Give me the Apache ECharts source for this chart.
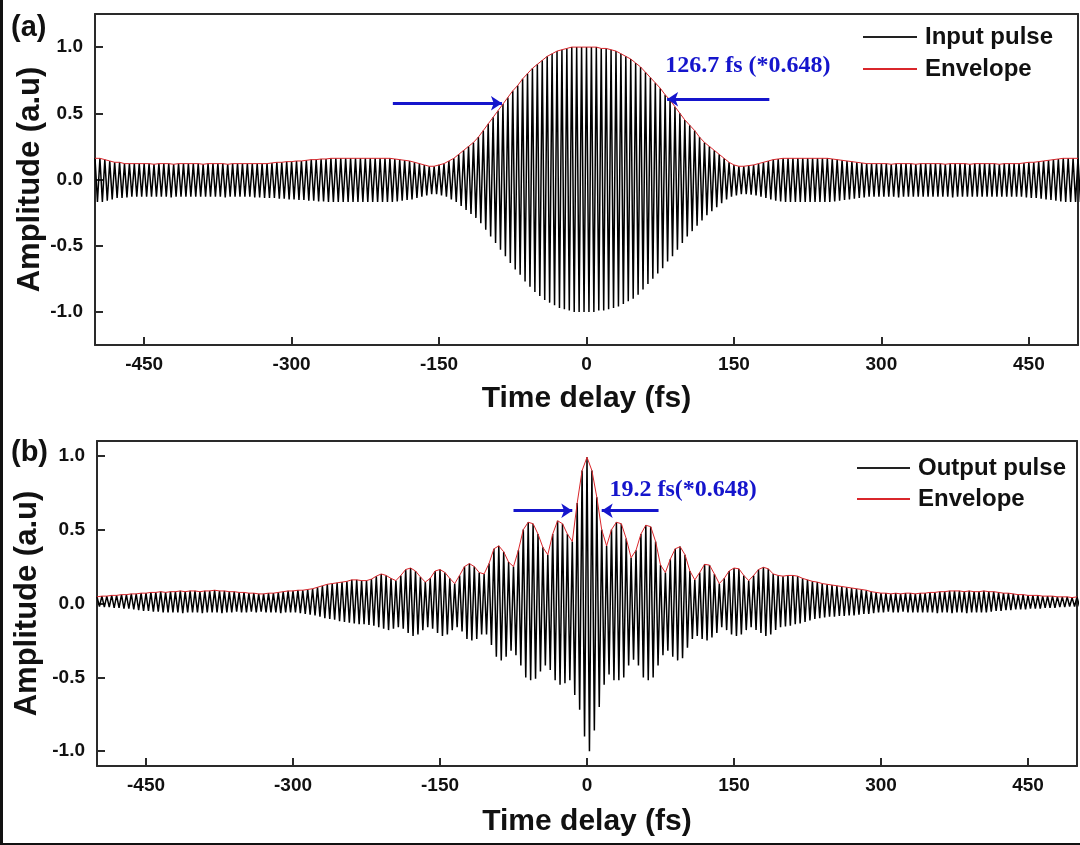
<!DOCTYPE html>
<html>
<head>
<meta charset="utf-8">
<title>Input / output pulse</title>
<script src="https://cdn.jsdelivr.net/npm/echarts@6/dist/echarts.min.js"></script>
<style>
  html, body { margin: 0; padding: 0; background: #fff; }
  #main { width: 1080px; height: 845px; }
  .edge { position: absolute; background: #111; }
</style>
</head>
<body>
<div id="main"></div>
<div class="edge" style="left:0;top:0;width:3px;height:845px"></div>
<div class="edge" style="left:0;top:843px;width:1080px;height:2px"></div>
<script>
// samples every 5 fs from -500 fs; peak at t, trough half a step later
const tStart = -500;
const tStep = 5;

// (a) input pulse: peak values and trough values
const inputUpper = [
  0.16, 0.16, 0.15, 0.14, 0.13, 0.13, 0.12, 0.12, 0.12, 0.12,
  0.12, 0.12, 0.115, 0.12, 0.12, 0.12, 0.115, 0.12, 0.12, 0.12,
  0.12, 0.12, 0.115, 0.12, 0.12, 0.12, 0.12, 0.115, 0.12, 0.12,
  0.12, 0.12, 0.12, 0.12, 0.12, 0.12, 0.125, 0.13, 0.13, 0.135,
  0.135, 0.14, 0.14, 0.145, 0.15, 0.15, 0.155, 0.155, 0.16, 0.16,
  0.16, 0.16, 0.16, 0.16, 0.16, 0.16, 0.16, 0.16, 0.16, 0.16,
  0.16, 0.155, 0.15, 0.145, 0.14, 0.13, 0.12, 0.11, 0.10, 0.10,
  0.11, 0.12, 0.14, 0.16, 0.19, 0.22, 0.25, 0.28, 0.32, 0.37,
  0.42, 0.47, 0.52, 0.57, 0.62, 0.67, 0.71, 0.76, 0.80, 0.84,
  0.87, 0.90, 0.93, 0.95, 0.97, 0.98, 0.99, 1.00, 1.00, 1.00,
  1.00, 1.00, 1.00, 0.99, 0.99, 0.98, 0.97, 0.95, 0.93, 0.91,
  0.88, 0.85, 0.81, 0.77, 0.73, 0.69, 0.64, 0.60, 0.55, 0.50,
  0.45, 0.41, 0.37, 0.32, 0.28, 0.25, 0.22, 0.19, 0.16, 0.13,
  0.11, 0.10, 0.10, 0.105, 0.11, 0.12, 0.13, 0.14, 0.15, 0.155,
  0.16, 0.16, 0.16, 0.16, 0.16, 0.16, 0.16, 0.16, 0.16, 0.16,
  0.155, 0.15, 0.145, 0.14, 0.135, 0.13, 0.125, 0.12, 0.12, 0.12,
  0.12, 0.12, 0.115, 0.12, 0.12, 0.12, 0.12, 0.115, 0.12, 0.12,
  0.12, 0.12, 0.12, 0.115, 0.12, 0.12, 0.12, 0.12, 0.115, 0.12,
  0.12, 0.12, 0.12, 0.12, 0.115, 0.12, 0.12, 0.12, 0.12, 0.125,
  0.13, 0.13, 0.135, 0.14, 0.145, 0.15, 0.155, 0.16, 0.16, 0.16,
  0.16
];
const inputLower = [
  -0.17, -0.17, -0.16, -0.15, -0.14, -0.14, -0.135, -0.13, -0.13, -0.13,
  -0.13, -0.13, -0.13, -0.13, -0.13, -0.135, -0.13, -0.13, -0.13, -0.13,
  -0.13, -0.13, -0.13, -0.13, -0.13, -0.13, -0.135, -0.13, -0.13, -0.13,
  -0.13, -0.13, -0.135, -0.135, -0.14, -0.14, -0.14, -0.145, -0.145, -0.15,
  -0.15, -0.155, -0.155, -0.16, -0.16, -0.165, -0.165, -0.17, -0.17, -0.17,
  -0.17, -0.17, -0.17, -0.17, -0.17, -0.17, -0.17, -0.17, -0.17, -0.17,
  -0.17, -0.165, -0.16, -0.155, -0.15, -0.14, -0.13, -0.12, -0.11, -0.11,
  -0.12, -0.13, -0.15, -0.17, -0.20, -0.23, -0.26, -0.29, -0.33, -0.38,
  -0.43, -0.48, -0.53, -0.58, -0.63, -0.68, -0.72, -0.77, -0.81, -0.85,
  -0.88, -0.91, -0.93, -0.95, -0.97, -0.98, -0.99, -1.00, -1.00, -1.00,
  -1.00, -1.00, -0.99, -0.99, -0.98, -0.97, -0.96, -0.94, -0.92, -0.90,
  -0.87, -0.83, -0.79, -0.75, -0.71, -0.67, -0.62, -0.58, -0.53, -0.48,
  -0.43, -0.39, -0.35, -0.31, -0.27, -0.24, -0.21, -0.18, -0.15, -0.13,
  -0.12, -0.11, -0.11, -0.115, -0.12, -0.13, -0.14, -0.15, -0.16, -0.165,
  -0.17, -0.17, -0.17, -0.17, -0.17, -0.17, -0.17, -0.17, -0.17, -0.17,
  -0.165, -0.16, -0.155, -0.15, -0.145, -0.14, -0.135, -0.13, -0.13, -0.13,
  -0.13, -0.13, -0.13, -0.135, -0.13, -0.13, -0.13, -0.13, -0.13, -0.13,
  -0.13, -0.13, -0.13, -0.13, -0.135, -0.13, -0.13, -0.13, -0.13, -0.13,
  -0.13, -0.13, -0.13, -0.13, -0.13, -0.13, -0.13, -0.13, -0.13, -0.135,
  -0.14, -0.14, -0.145, -0.15, -0.155, -0.16, -0.165, -0.17, -0.17, -0.17,
  -0.17
];

// (b) output pulse
const outputUpper = [
  0.045, 0.05, 0.05, 0.055, 0.055, 0.06, 0.06, 0.065, 0.065, 0.07,
  0.07, 0.075, 0.075, 0.08, 0.075, 0.08, 0.08, 0.085, 0.08, 0.085,
  0.085, 0.08, 0.085, 0.085, 0.09, 0.085, 0.085, 0.08, 0.08, 0.075,
  0.075, 0.07, 0.07, 0.065, 0.065, 0.07, 0.07, 0.075, 0.08, 0.085,
  0.085, 0.09, 0.09, 0.095, 0.10, 0.11, 0.12, 0.13, 0.135, 0.14,
  0.145, 0.15, 0.16, 0.16, 0.155, 0.155, 0.165, 0.185, 0.20, 0.19,
  0.17, 0.155, 0.19, 0.23, 0.24, 0.22, 0.18, 0.145, 0.17, 0.22,
  0.23, 0.21, 0.17, 0.135, 0.19, 0.25, 0.27, 0.25, 0.21, 0.20,
  0.27, 0.37, 0.39, 0.35, 0.28, 0.25, 0.36, 0.50, 0.55, 0.54,
  0.47, 0.38, 0.33, 0.47, 0.56, 0.54, 0.47, 0.42, 0.68, 0.90,
  0.99, 0.90, 0.72, 0.50, 0.39, 0.50, 0.55, 0.54, 0.44, 0.31,
  0.36, 0.47, 0.53, 0.52, 0.42, 0.26, 0.21, 0.30, 0.37, 0.385,
  0.33, 0.22, 0.16, 0.21, 0.265, 0.26, 0.20, 0.135, 0.17, 0.22,
  0.24, 0.235, 0.19, 0.155, 0.19, 0.23, 0.245, 0.235, 0.20, 0.19,
  0.185, 0.19, 0.19, 0.185, 0.17, 0.16, 0.15, 0.145, 0.135, 0.13,
  0.125, 0.12, 0.115, 0.11, 0.105, 0.10, 0.095, 0.09, 0.08, 0.075,
  0.07, 0.07, 0.065, 0.07, 0.065, 0.07, 0.07, 0.065, 0.07, 0.07,
  0.075, 0.075, 0.08, 0.08, 0.085, 0.085, 0.085, 0.08, 0.085, 0.08,
  0.08, 0.085, 0.08, 0.08, 0.075, 0.07, 0.07, 0.065, 0.06, 0.06,
  0.055, 0.055, 0.055, 0.05, 0.05, 0.05, 0.045, 0.045, 0.045, 0.04,
  0.045
];
const outputLower = [
  -0.02, -0.025, -0.025, -0.03, -0.03, -0.035, -0.035, -0.04, -0.045, -0.05,
  -0.05, -0.055, -0.055, -0.06, -0.06, -0.06, -0.06, -0.065, -0.06, -0.06,
  -0.06, -0.065, -0.06, -0.06, -0.06, -0.065, -0.06, -0.06, -0.055, -0.06,
  -0.06, -0.055, -0.06, -0.055, -0.06, -0.06, -0.06, -0.065, -0.06, -0.06,
  -0.06, -0.065, -0.07, -0.075, -0.08, -0.09, -0.10, -0.105, -0.11, -0.12,
  -0.125, -0.13, -0.135, -0.14, -0.14, -0.145, -0.15, -0.16, -0.17, -0.18,
  -0.17, -0.16, -0.17, -0.20, -0.22, -0.21, -0.18, -0.16, -0.17, -0.20,
  -0.22, -0.21, -0.18, -0.16, -0.19, -0.24, -0.25, -0.24, -0.21, -0.21,
  -0.28, -0.36, -0.385, -0.36, -0.32, -0.35, -0.42, -0.50, -0.52, -0.51,
  -0.46, -0.42, -0.45, -0.52, -0.55, -0.54, -0.52, -0.62, -0.72, -0.90,
  -1.00, -0.86, -0.70, -0.55, -0.48, -0.52, -0.52, -0.50, -0.42, -0.38,
  -0.42, -0.50, -0.52, -0.50, -0.42, -0.35, -0.32, -0.36, -0.385, -0.37,
  -0.30, -0.24, -0.22, -0.24, -0.25, -0.23, -0.20, -0.16, -0.18, -0.21,
  -0.22, -0.21, -0.18, -0.16, -0.18, -0.20, -0.22, -0.21, -0.18, -0.16,
  -0.155, -0.15, -0.14, -0.135, -0.125, -0.115, -0.105, -0.10, -0.095, -0.09,
  -0.09, -0.085, -0.085, -0.08, -0.08, -0.075, -0.07, -0.07, -0.065, -0.06,
  -0.06, -0.055, -0.06, -0.06, -0.055, -0.06, -0.06, -0.06, -0.06, -0.06,
  -0.06, -0.065, -0.06, -0.06, -0.065, -0.06, -0.06, -0.065, -0.06, -0.06,
  -0.06, -0.06, -0.055, -0.05, -0.05, -0.045, -0.045, -0.04, -0.04, -0.04,
  -0.035, -0.035, -0.035, -0.03, -0.03, -0.03, -0.025, -0.025, -0.02, -0.02,
  -0.02
];

const xTicks = [-450, -300, -150, 0, 150, 300, 450];
const yTicks = [-1.0, -0.5, 0.0, 0.5, 1.0];

const SANS = "'Liberation Sans', Arial, sans-serif";
const SERIF = "'Liberation Serif', 'Times New Roman', serif";
const BLUE = "#1515cc";
const RED = "#d9262b";
const AXIS = "#2a2a2a";

// zigzag carrier: peak at t, trough at t + half step
function pulse (upper, lower) {
  const pts = [];
  upper.forEach((v, i) => {
    const t = tStart + i * tStep;
    pts.push([t, v]);
    pts.push([t + tStep / 2, lower[i]]);
  });
  return pts;
}
function envelope (upper) {
  return upper.map((v, i) => [tStart + i * tStep, v]);
}

function bottomAxis (gi, gap) {
  return {
    gridIndex: gi, type: "value", min: -500, max: 500, position: "bottom",
    axisLine: { show: true, onZero: false, lineStyle: { color: AXIS, width: 2 } },
    axisTick: { show: true, inside: true, length: 8, customValues: xTicks, lineStyle: { color: AXIS, width: 2 } },
    axisLabel: { customValues: xTicks, fontSize: 19, fontWeight: "bold", color: "#111", fontFamily: SANS, margin: 10 },
    splitLine: { show: false },
    name: "Time delay (fs)", nameLocation: "middle", nameGap: gap, nameMoveOverlap: false,
    nameTextStyle: { fontSize: 30, fontWeight: "bold", color: "#111", fontFamily: SANS },
  };
}
function topAxis (gi) {
  return {
    gridIndex: gi, type: "value", min: -500, max: 500, position: "top",
    axisLine: { show: true, onZero: false, lineStyle: { color: AXIS, width: 2 } },
    axisTick: { show: false }, axisLabel: { show: false }, splitLine: { show: false },
  };
}
function leftAxis (gi, lim, gap) {
  return {
    gridIndex: gi, type: "value", min: -lim, max: lim, position: "left",
    axisLine: { show: true, onZero: false, lineStyle: { color: AXIS, width: 2 } },
    axisTick: { show: true, inside: true, length: 8, customValues: yTicks, lineStyle: { color: AXIS, width: 2 } },
    axisLabel: {
      customValues: yTicks, fontSize: 19, fontWeight: "bold", color: "#111", fontFamily: SANS, margin: 12,
      formatter: v => v.toFixed(1),
    },
    splitLine: { show: false },
    name: "Amplitude (a.u)", nameLocation: "middle", nameRotate: 90, nameGap: gap, nameMoveOverlap: false,
    nameTextStyle: { fontSize: 31, fontWeight: "bold", color: "#111", fontFamily: SANS },
  };
}
function rightAxis (gi, lim) {
  return {
    gridIndex: gi, type: "value", min: -lim, max: lim, position: "right",
    axisLine: { show: true, onZero: false, lineStyle: { color: AXIS, width: 2 } },
    axisTick: { show: false }, axisLabel: { show: false }, splitLine: { show: false },
  };
}

function arrows (list) {
  return {
    silent: true, animation: false,
    symbol: ["none", "arrow"], symbolSize: 11,
    label: { show: false },
    lineStyle: { color: BLUE, width: 3, type: "solid" },
    emphasis: { disabled: true },
    data: list.map(a => [{ coord: a[0] }, { coord: a[1] }]),
  };
}
function note (text, at) {
  return {
    silent: true, animation: false,
    symbol: "circle", symbolSize: 0,
    label: {
      show: true, position: "right", distance: 0, formatter: text,
      color: BLUE, fontFamily: SERIF, fontWeight: "bold", fontSize: 24,
    },
    data: [{ coord: at }],
  };
}

const legendText = { fontSize: 24, fontWeight: "bold", color: "#111", fontFamily: SANS, padding: [0, 0, 0, 3] };

const chart = echarts.init(document.getElementById("main"), null, { renderer: "canvas" });
chart.setOption({
  animation: false,
  backgroundColor: "#fff",
  textStyle: { fontFamily: SANS },
  grid: [
    { left: 95, top: 14, width: 983, height: 331 },
    { left: 97, top: 441, width: 980, height: 325 },
  ],
  xAxis: [bottomAxis(0, 39), topAxis(0), bottomAxis(1, 41), topAxis(1)],
  yAxis: [leftAxis(0, 1.25, 49), rightAxis(0, 1.25), leftAxis(1, 1.1, 54), rightAxis(1, 1.1)],
  legend: [
    {
      data: ["Input pulse", "Envelope"], orient: "vertical", left: 858, top: 20,
      icon: "rect", itemWidth: 54, itemHeight: 2, itemGap: 8, textStyle: legendText, selectedMode: false,
    },
    {
      data: ["Output pulse", "Envelope"], orient: "vertical", left: 852, top: 451,
      icon: "rect", itemWidth: 53, itemHeight: 2, itemGap: 7, textStyle: legendText, selectedMode: false,
    },
  ],
  graphic: [
    { type: "text", left: 11, top: 13, style: { text: "(a)", font: "bold 29px " + SANS, fill: "#111" } },
    { type: "text", left: 11, top: 438, style: { text: "(b)", font: "bold 29px " + SANS, fill: "#111" } },
  ],
  series: [
    {
      name: "Input pulse", type: "line", xAxisIndex: 0, yAxisIndex: 0,
      data: pulse(inputUpper, inputLower), symbol: "none", silent: true,
      lineStyle: { color: "#000", width: 1.5 }, itemStyle: { color: "#222" },
    },
    {
      name: "Envelope", type: "line", xAxisIndex: 0, yAxisIndex: 0,
      data: envelope(inputUpper), symbol: "none", silent: true, z: 3,
      lineStyle: { color: RED, width: 1 }, itemStyle: { color: RED },
      markLine: arrows([[[-197, 0.576], [-86, 0.576]], [[186, 0.606], [82, 0.606]]]),
      markPoint: note("126.7 fs (*0.648)", [80, 0.86]),
    },
    {
      name: "Output pulse", type: "line", xAxisIndex: 2, yAxisIndex: 2,
      data: pulse(outputUpper, outputLower), symbol: "none", silent: true,
      lineStyle: { color: "#000", width: 1.5 }, itemStyle: { color: "#222" },
    },
    {
      name: "Envelope", type: "line", xAxisIndex: 2, yAxisIndex: 2,
      data: envelope(outputUpper), symbol: "none", silent: true, z: 3,
      lineStyle: { color: RED, width: 1 }, itemStyle: { color: RED },
      markLine: arrows([[[-75, 0.628], [-15, 0.628]], [[73, 0.628], [15, 0.628]]]),
      markPoint: note("19.2 fs(*0.648)", [23, 0.77]),
    },
  ],
});
</script>
</body>
</html>
